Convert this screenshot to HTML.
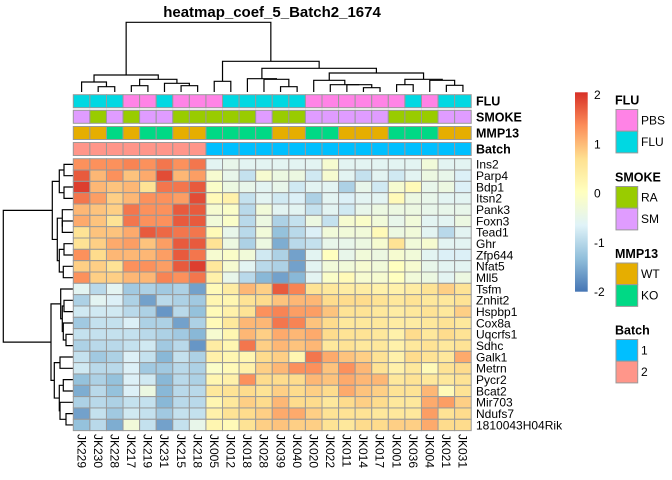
<!DOCTYPE html>
<html><head><meta charset="utf-8"><style>
html,body{margin:0;padding:0;background:#fff;}
svg{display:block;font-family:"Liberation Sans",Arial,sans-serif;}
</style></head><body>
<svg id="chart" width="672" height="480" viewBox="0 0 672 480">
<text x="272" y="17" text-anchor="middle" font-size="15" font-weight="bold">heatmap_coef_5_Batch2_1674</text>
<g id="colDend"></g>
<g id="rowDend"></g>
<g id="annot"></g>
<g id="cells"></g>
<g id="rowLabels"></g>
<g id="colLabels"></g>
<g id="legend"></g>
</svg>
<script>
const samples = ["JK229","JK230","JK228","JK217","JK219","JK231","JK215","JK218","JK005","JK012","JK018","JK028","JK039","JK040","JK020","JK022","JK011","JK014","JK017","JK001","JK036","JK004","JK021","JK031"];
const genes = ["Ins2","Parp4","Bdp1","Itsn2","Pank3","Foxn3","Tead1","Ghr","Zfp644","Nfat5","Mll5","Tsfm","Znhit2","Hspbp1","Cox8a","Uqcrfs1","Sdhc","Galk1","Metrn","Pycr2","Bcat2","Mir703","Ndufs7","1810043H04Rik"];
const annFLU = ["FLU","FLU","FLU","PBS","PBS","FLU","PBS","PBS","PBS","FLU","FLU","FLU","FLU","FLU","PBS","PBS","PBS","PBS","PBS","PBS","FLU","PBS","FLU","FLU"];
const annSMOKE = ["SM","RA","SM","RA","SM","SM","RA","RA","RA","RA","RA","SM","RA","RA","SM","SM","SM","SM","SM","RA","RA","RA","SM","SM"];
const annMMP13 = ["WT","WT","KO","WT","KO","KO","WT","WT","KO","KO","KO","KO","WT","WT","KO","KO","WT","WT","WT","KO","KO","KO","WT","WT"];
const annBatch = ["2","2","2","2","2","2","2","2","1","1","1","1","1","1","1","1","1","1","1","1","1","1","1","1"];
const values = [
[1.3,1.3,1.3,1.4,1.3,1.5,1.3,1.5,-0.6,-0.5,-0.6,-0.6,-0.6,-0.6,-0.6,-0.2,-0.6,-0.6,-0.6,-0.6,-0.6,-0.3,-0.6,-0.6],
[1.7,1.0,1.3,0.9,1.1,1.8,1.0,1.2,-0.2,-0.5,-0.9,-0.2,-0.4,-0.4,-0.8,-0.2,-0.6,-0.9,-0.6,-0.8,-0.6,-0.4,-0.5,-0.7],
[1.9,1.0,0.9,1.0,0.6,1.5,1.5,1.7,-0.1,-0.4,-0.5,-0.6,-0.5,-0.8,-0.6,-0.6,-1.1,-0.5,-0.8,-0.2,0.1,-0.5,-0.4,-0.7],
[1.5,1.2,0.8,1.0,1.3,1.3,1.2,1.8,0.1,0.3,-0.9,-0.6,-0.8,-0.7,-1.1,-0.6,-0.7,-0.6,-0.6,0.1,-0.4,-0.5,-0.6,-0.6],
[1.0,0.9,0.8,1.5,1.3,1.3,1.7,1.7,-0.2,-0.1,-1.0,-0.3,-0.6,-0.6,-0.9,-0.6,-0.8,-0.5,-0.4,-0.4,-0.4,-0.5,-0.5,-0.5],
[1.1,0.9,0.6,1.5,1.3,1.3,1.7,1.7,-0.3,-0.1,-1.0,-0.4,-1.1,-0.9,-0.4,-0.9,-0.2,-0.1,-0.3,-0.5,-0.3,-0.6,-0.6,-0.4],
[0.6,0.9,0.9,1.1,1.7,1.6,1.5,1.5,0.1,-0.5,-1.0,-0.3,-1.3,-1.0,-0.7,-0.3,-0.3,-0.3,0.1,-0.4,-0.3,-0.6,-1.0,-0.6],
[0.6,0.8,1.1,1.2,0.9,1.2,1.7,1.7,0.6,-0.4,-1.1,-0.4,-1.5,-1.0,-0.9,-0.5,-0.5,-0.4,-0.2,0.6,-0.3,-0.2,-0.6,-0.6],
[1.3,0.7,1.0,1.0,1.0,1.2,1.7,1.5,-0.2,-0.1,-0.3,-0.8,-1.1,-1.6,-0.6,0.0,-0.5,-0.3,-0.4,-0.2,-0.3,-0.6,-0.7,-0.7],
[0.8,0.8,0.6,1.3,1.3,1.2,1.7,1.9,0.5,-0.2,-0.6,-1.0,-1.1,-1.6,-0.6,-0.3,-0.3,-0.2,-0.3,0.0,-0.2,-0.5,-0.6,-0.6],
[1.3,0.8,0.8,1.0,1.0,1.4,1.3,1.5,0.3,-0.5,-1.0,-1.4,-1.6,-1.4,-0.6,-0.1,0.1,-0.2,-0.2,0.0,-0.3,-0.4,-0.6,-0.4],
[-0.6,-1.0,-0.6,-1.2,-1.1,-1.2,-1.1,-1.6,0.1,0.4,1.0,0.8,1.7,1.4,0.6,0.5,0.4,0.4,0.3,0.3,0.4,0.6,0.8,0.6],
[-1.1,-0.6,-0.7,-1.1,-1.6,-1.0,-1.1,-1.2,0.2,0.2,0.6,0.7,0.9,1.0,1.0,0.7,0.7,0.7,0.6,0.5,0.6,0.5,0.5,0.6],
[-0.8,-0.8,-0.8,-1.0,-1.1,-1.7,-1.0,-1.3,0.1,0.3,0.6,1.3,1.4,1.2,1.2,0.9,0.6,0.6,0.5,0.4,0.5,0.6,0.5,0.8],
[-1.2,-0.9,-0.9,-0.7,-1.1,-1.1,-1.6,-1.1,0.1,0.5,1.0,1.0,1.5,1.4,0.9,0.7,0.5,0.5,0.5,0.4,0.4,0.5,0.6,0.5],
[-0.9,-0.9,-0.9,-0.9,-1.0,-1.1,-1.2,-1.4,-0.2,0.2,1.0,0.8,1.1,1.0,1.1,0.7,0.6,0.6,0.5,0.3,0.7,0.5,0.7,0.6],
[-1.1,-1.0,-1.0,-0.9,-0.8,-1.2,-1.0,-1.7,0.4,0.2,1.5,0.8,1.0,0.9,1.0,0.5,0.6,0.5,0.5,0.3,0.5,0.6,0.5,0.6],
[-0.9,-1.2,-1.1,-0.7,-0.9,-1.4,-0.9,-1.1,0.3,0.2,0.2,0.7,0.8,0.2,1.5,1.1,0.9,0.8,0.6,0.3,0.7,0.6,0.5,1.1],
[-0.8,-1.0,-1.0,-0.7,-1.2,-1.2,-1.0,-1.1,-0.1,0.1,0.3,0.8,1.0,1.3,1.3,0.9,1.3,1.0,0.6,0.3,0.5,0.1,0.6,0.7],
[-1.3,-1.1,-1.3,-0.7,-0.8,-1.4,-1.0,-1.1,0.2,0.3,1.3,0.7,0.7,0.7,1.0,0.9,1.1,1.0,1.0,0.5,0.6,0.5,0.5,0.6],
[-1.5,-1.0,-1.3,-0.7,-0.4,-1.4,-1.0,-1.0,0.5,0.6,0.7,0.6,0.8,0.7,0.8,0.7,1.1,0.9,0.8,0.6,0.6,1.0,0.1,0.6],
[-1.1,-1.0,-1.1,-0.9,-0.9,-1.4,-1.0,-1.0,0.2,0.5,0.8,0.7,1.0,0.7,0.7,0.5,0.7,0.8,0.7,0.5,0.5,1.1,1.2,0.8],
[-1.6,-0.9,-1.2,-0.8,-0.9,-1.2,-0.9,-0.9,0.3,0.6,0.7,0.8,1.1,1.1,0.8,0.6,0.6,0.6,0.5,0.5,0.5,1.2,0.6,0.7],
[-1.3,-1.0,-1.5,-0.3,-0.9,-1.6,-0.9,-0.5,0.2,0.1,0.6,0.8,0.9,0.8,0.8,0.6,0.5,0.7,0.7,0.8,0.8,1.1,0.7,0.7]
];
// dendrogram merge heights (nested [height, left, right]; leaves = indices)
const colTree = [69.7,
  [17,[10,0,[5.3,1,2]],[12.7,[6.3,3,4],[8.7,5,[6.3,6,7]]]],
  [30.7,[10.7,8,9],[23.7,[13.3,10,[12.7,11,[5.3,12,13]]],[19,[11.7,14,[7.3,15,[7.3,16,[4.3,17,18]]]],[12.7,[7.3,19,20],[11.7,21,[6.7,22,23]]]]]]];
const rowTree = [69.7,
  [20.7,[13.7,[9,0,1],[9,2,3]],[15.7,[10.7,4,[10.7,5,6]],[13.7,[9,7,8],[9.7,9,10]]]],
  [22,[12.3,11,[10.7,[9,12,13],[9.7,14,[7,15,16]]]],[18.7,[13,17,18],[13.7,[9.7,19,20],[13,21,[7,22,23]]]]]];
const scaleTicks = [2,1,0,-1,-2];

const NS="http://www.w3.org/2000/svg";
function mk(tag,attrs,parent){const e=document.createElementNS(NS,tag);for(const k in attrs)e.setAttribute(k,attrs[k]);parent.appendChild(e);return e;}
const X0=73.3, CW=16.58, Y0=158.7, RH=11.33;
const xCol=i=>X0+CW*i, yRow=r=>Y0+RH*r;
const stops=["#4575B4","#91BFDB","#E0F3F8","#FFFFBF","#FEE090","#FC8D59","#D73027"];
function hex(h){return [1,3,5].map(i=>parseInt(h.substr(i,2),16));}
function colorOf(v){let t=(Math.max(-2,Math.min(2,v))+2)/4*6;let i=Math.min(5,Math.floor(t));let f=t-i;const a=hex(stops[i]),b=hex(stops[i+1]);return "rgb("+a.map((c,k)=>Math.round(c+(b[k]-c)*f)).join(",")+")";}
const annColors={FLU:{PBS:"#FF83E6",FLU:"#00D8E2"},SMOKE:{RA:"#99CC00",SM:"#E09CFF"},MMP13:{WT:"#E6AE00",KO:"#00D985"},Batch:{"1":"#00BFFF","2":"#FF968A"}};

// cells
const cg=document.getElementById('cells');
values.forEach((row,r)=>row.forEach((v,c)=>{
  const e=mk('rect',{x:xCol(c),y:yRow(r),width:CW,height:RH,fill:colorOf(v),stroke:"#999","stroke-width":1},cg);
  
  
}));
// annotations
const ag=document.getElementById('annot');
const annRows=[["FLU",annFLU,94.7],["SMOKE",annSMOKE,110.3],["MMP13",annMMP13,126.5],["Batch",annBatch,142.5]];
annRows.forEach(([name,arr,y])=>{
  arr.forEach((v,c)=>{
    const e=mk('rect',{x:xCol(c),y:y,width:CW,height:13,fill:annColors[name][v],stroke:"#999","stroke-width":1},ag);
    
    
  });
  const t=mk('text',{x:476,y:y+11,"font-size":12.5,"font-weight":"bold"},ag);t.textContent=name;
  
  
});
// row labels
const rl=document.getElementById('rowLabels');
genes.forEach((g,r)=>{const t=mk('text',{x:476,y:yRow(r)+RH/2+4.3,"font-size":12},rl);t.textContent=g;
  
  });
// col labels
const cl=document.getElementById('colLabels');
samples.forEach((s,c)=>{const cx=xCol(c)+CW/2-4.3;const t=mk('text',{x:0,y:0,"font-size":12,transform:`translate(${cx},434) rotate(90)`},cl);t.textContent=s;
  
  });
// dendrograms
function drawTree(node,g,pos,hpos,horizontal){
  if(typeof node==="number")return {p:pos(node),h:hpos(0)};
  const a=drawTree(node[1],g,pos,hpos,horizontal),b=drawTree(node[2],g,pos,hpos,horizontal);
  const h=hpos(node[0]);
  let d;
  if(!horizontal) d=`M${a.p},${a.h}V${h}H${b.p}V${b.h}`;
  else d=`M${a.h},${a.p}H${h}V${b.p}H${b.h}`;
  const e=mk('path',{d:d,fill:"none",stroke:"#000","stroke-width":1.2},g);
  
  
  return {p:(a.p+b.p)/2,h:h};
}
drawTree(colTree,document.getElementById('colDend'),i=>xCol(i)+CW/2,h=>92-h,false);
drawTree(rowTree,document.getElementById('rowDend'),i=>yRow(i)+RH/2,h=>73-h,true);
// legend
const lg=document.getElementById('legend');
const defs=mk('defs',{},lg);const grad=mk('linearGradient',{id:"cg",x1:0,y1:1,x2:0,y2:0},defs);
stops.forEach((s,i)=>mk('stop',{offset:(i/6),"stop-color":s},grad));
const cb=mk('rect',{x:575,y:92.3,width:12.7,height:199.4,fill:"url(#cg)"},lg);


scaleTicks.forEach(v=>{const y=292-(v+2)/4*197;const t=mk('text',{x:594,y:y+4,"font-size":12},lg);t.textContent=String(v).replace('-','-');
  
  });
const legGroups=[["FLU",100,["PBS","FLU"]],["SMOKE",177,["RA","SM"]],["MMP13",253.5,["WT","KO"]],["Batch",330,["1","2"]]];
legGroups.forEach(([name,ty,levels])=>{
  const t=mk('text',{x:615,y:ty+4.5,"font-size":12.5,"font-weight":"bold"},lg);t.textContent=name;
  
  
  levels.forEach((lv,i)=>{const y=ty+9.5+i*21.7;
    const r=mk('rect',{x:616,y:y,width:21.7,height:21.7,fill:annColors[name][lv],stroke:"#999","stroke-width":1},lg);
    
    
    const tt=mk('text',{x:641,y:y+15,"font-size":12},lg);tt.textContent=lv;
    
    });
});
</script>
</body></html>
